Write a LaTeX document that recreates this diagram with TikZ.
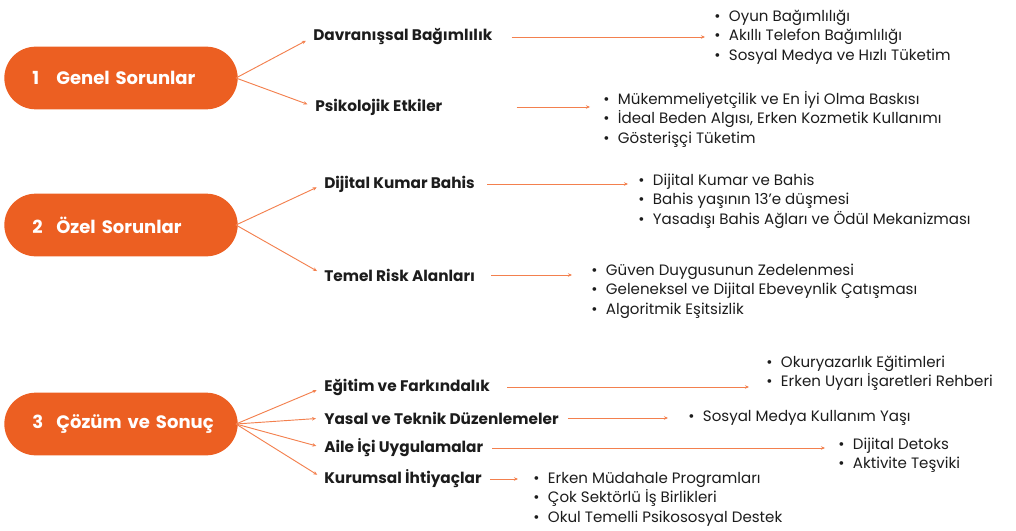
\documentclass[tikz,border=0pt]{standalone}
\usepackage{fontspec}
\setmainfont{Poppins}
\usepackage{tikz}
\usetikzlibrary{calc}
\usetikzlibrary{arrows.meta}

\definecolor{turuncu}{HTML}{EC5F22}
\definecolor{okrenk}{HTML}{F3804E}
\definecolor{yazi}{HTML}{1C1C1C}

\newcommand{\madde}{\makebox[11pt][l]{\textbullet}}
\newcommand{\numara}[1]{\hspace{8.5pt}\makebox[18pt][l]{#1}}

\tikzset{
  kapsul/.style={fill=turuncu, rounded corners=23.5pt, minimum height=47pt,
    text width=150pt, inner xsep=12.5pt, align=left, text=white,
    font=\fontsize{13.5}{16}\selectfont\bfseries},
  baslik/.style={inner sep=0pt, anchor=west, text=yazi,
    font=\fontsize{11.5}{13}\selectfont\bfseries},
  liste/.style={inner sep=0pt, anchor=west, align=left, text=yazi,
    font=\fontsize{11.3}{14.6}\selectfont},
  ok/.style={draw=okrenk, line width=0.7pt, -{Stealth[length=3pt,width=2.6pt]}}
}

\begin{document}
\begin{tikzpicture}[x=0.75pt,y=-0.75pt]
            \useasboundingbox (0,0) rectangle (1016,531);
            % ana kutular
            \node[kapsul] (g1) at (121,78) {\numara{1}Genel Sorunlar};
            \node[kapsul] (g2) at (121,225) {\numara{2}Özel Sorunlar};
            \node[kapsul] (g3) at (121,424) {\numara{3}Çözüm ve Sonuç};
            % alt basliklar
            \node[baslik] (h1) at (313,37) {Davranışsal Bağımlılık};
            \node[baslik] (h2) at (315,107) {Psikolojik Etkiler};
            \node[baslik] (h3) at (324,184) {Dijital Kumar Bahis};
            \node[baslik] (h4) at (324,275) {Temel Risk Alanları};
            \node[baslik] (h5) at (324,387) {Eğitim ve Farkındalık};
            \node[baslik] (h6) at (324,418) {Yasal ve Teknik Düzenlemeler};
            \node[baslik] (h7) at (324,448) {Aile İçi Uygulamalar};
            \node[baslik] (h8) at (324,479) {Kurumsal İhtiyaçlar};
            % listeler
            \node[liste] (l1) at (714,37) {\madde Oyun Bağımlılığı\\ \madde Akıllı Telefon Bağımlılığı\\ \madde Sosyal Medya ve Hızlı Tüketim};
            \node[liste] (l2) at (603,119) {\madde Mükemmeliyetçilik ve En İyi Olma Baskısı\\ \madde İdeal Beden Algısı, Erken Kozmetik Kullanımı\\ \madde Gösterişçi Tüketim};
            \node[liste] (l3) at (638,201) {\madde Dijital Kumar ve Bahis\\ \madde Bahis yaşının 13'e düşmesi\\ \madde Yasadışı Bahis Ağları ve Ödül Mekanizması};
            \node[liste] (l4) at (591,291) {\madde Güven Duygusunun Zedelenmesi\\ \madde Geleneksel ve Dijital Ebeveynlik Çatışması\\ \madde Algoritmik Eşitsizlik};
            \node[liste] (l5) at (766,373) {\madde Okuryazarlık Eğitimleri\\ \madde Erken Uyarı İşaretleri Rehberi};
            \node[liste] (l6) at (688,418) {\madde Sosyal Medya Kullanım Yaşı};
            \node[liste] (l7) at (838,455) {\madde Dijital Detoks\\ \madde Aktivite Teşviki};
            \node[liste] (l8) at (533,499) {\madde Erken Müdahale Programları\\ \madde Çok Sektörlü İş Birlikleri\\ \madde Okul Temelli Psikososyal Destek};
            % kutudan basliga oklar
            \foreach \g/\h in {g1/h1, g1/h2, g2/h3, g2/h4, g3/h5, g3/h6, g3/h7, g3/h8}
              \draw[ok, shorten >=6pt] ($(\g.east)+(-2,0)$) -- (\h.west);
            % basliktan listeye oklar
            \foreach \h/\l/\a/\b in {h1/l1/19/9, h2/l2/74/13, h3/l3/12/10, h4/l4/16/19,
                                     h5/l5/17/17, h6/l6/9/20, h7/l7/9/13, h8/l8/8/15}
              \draw[ok] ($(\h.east)+(\a,0)$) -- ($(\l.west |- \h.east)+(-\b,0)$);
        \end{tikzpicture}
\end{document}
